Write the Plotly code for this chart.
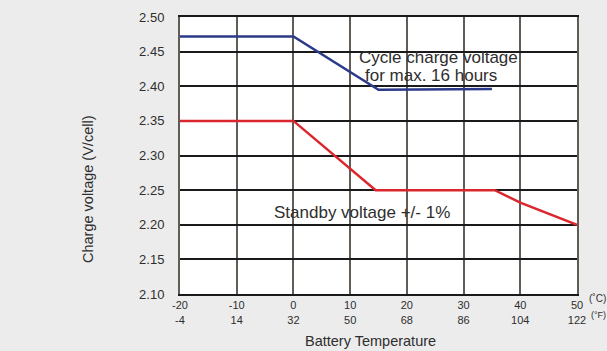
import plotly.graph_objects as go

# Data (temperature in °C, voltage in V/cell)
cycle_temp = [-20, 0, 15, 35]
cycle_volt = [2.472, 2.472, 2.395, 2.396]

standby_temp = [-20, 0, 14.5, 35.5, 40, 50]
standby_volt = [2.35, 2.35, 2.25, 2.25, 2.232, 2.20]

x_ticks_c = [-20, -10, 0, 10, 20, 30, 40, 50]
x_ticks_f = [-4, 14, 32, 50, 68, 86, 104, 122]
y_ticks = [2.10, 2.15, 2.20, 2.25, 2.30, 2.35, 2.40, 2.45, 2.50]

FONT = "Arial, Liberation Sans, sans-serif"
TXT = "#2e2e2e"

fig = go.Figure()
fig.add_trace(go.Scatter(x=cycle_temp, y=cycle_volt, mode="lines",
                         line=dict(color="#2b3a8a", width=2.5), showlegend=False,
                         cliponaxis=False))
fig.add_trace(go.Scatter(x=standby_temp, y=standby_volt, mode="lines",
                         line=dict(color="#dc262d", width=2.5), showlegend=False,
                         cliponaxis=False))

fig.update_layout(
    width=607, height=351,
    margin=dict(l=180, r=30, t=17, b=57),
    paper_bgcolor="#ececec", plot_bgcolor="#ffffff",
    font=dict(family=FONT, color=TXT),
    xaxis=dict(range=[-20, 50], tickvals=x_ticks_c,
               ticktext=[f"{c}<br>{f}" for c, f in zip(x_ticks_c, x_ticks_f)],
               showgrid=True, gridcolor="#625c57", gridwidth=2,
               showline=True, linecolor="#1a1a1a", linewidth=2, mirror=True,
               zeroline=False, ticks="", tickfont=dict(size=11, color=TXT),
               automargin=False),
    yaxis=dict(range=[2.10, 2.50], tickvals=y_ticks,
               ticktext=[f"{v:.2f}" for v in y_ticks],
               showgrid=True, gridcolor="#1a1a1a", gridwidth=1.5,
               showline=True, linecolor="#625c57", linewidth=2, mirror=True,
               zeroline=False, ticks="outside", ticklen=11, tickcolor="rgba(0,0,0,0)",
               tickfont=dict(size=13, color=TXT), automargin=False),
    annotations=[
        dict(x=11.2, y=2.442, text="Cycle charge voltage", showarrow=False,
             xanchor="left", yanchor="middle", font=dict(size=17, color=TXT)),
        dict(x=12.3, y=2.416, text="for max. 16 hours", showarrow=False,
             xanchor="left", yanchor="middle", font=dict(size=17, color=TXT)),
        dict(x=-3.8, y=2.217, text="Standby voltage +/- 1%", showarrow=False,
             xanchor="left", yanchor="middle", font=dict(size=17, color=TXT)),
        dict(x=50, y=2.10, xref="x", yref="y", text="(˚C)", showarrow=False,
             xanchor="left", yanchor="middle", xshift=10, yshift=-4,
             font=dict(size=10, color=TXT)),
        dict(x=50, y=2.10, xref="x", yref="y", text="(°F)", showarrow=False,
             xanchor="left", yanchor="middle", xshift=12, yshift=-21,
             font=dict(size=9, color=TXT)),
        dict(x=370, y=351 - 341, xref="paper", yref="paper", text="Battery Temperature",
             showarrow=False, xanchor="center", yanchor="middle",
             font=dict(size=14.5, color=TXT)),
        dict(x=88, y=351 - 189, xref="paper", yref="paper", text="Charge voltage (V/cell)",
             showarrow=False, xanchor="center", yanchor="middle", textangle=-90,
             font=dict(size=14.5, color=TXT)),
    ],
)

# convert pixel-based title positions to paper fractions
W, H = 607, 351
L, R, T, B = 180, 30, 17, 57
pw, ph = W - L - R, H - T - B
for ann in fig.layout.annotations[-2:]:
    ann.x = (ann.x - L) / pw
    ann.y = (ann.y - B) / ph

fig.write_html("out.html")
